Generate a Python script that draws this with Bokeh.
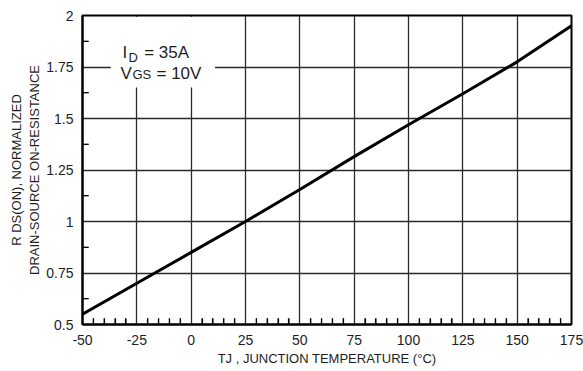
from bokeh.plotting import figure
from bokeh.models import FixedTicker, Range1d
from bokeh.core.properties import value
from bokeh.embed import file_html
from bokeh.resources import INLINE

# ---- data ----
temps = [-50, -25, 0, 25, 50, 75, 100, 125, 150, 175]
rds_norm = [0.55, 0.70, 0.85, 1.00, 1.155, 1.315, 1.47, 1.62, 1.775, 1.95]

x_ticks = [-50, -25, 0, 25, 50, 75, 100, 125, 150, 175]
x_tick_labels = ["-50", "-25", "0", "25", "50", "75", "100", "125", "150", "175"]
x_minor = [-45, -40, -35, -30, -20, -15, -10, -5, 5, 10, 15, 20, 30, 35, 40, 45,
           55, 60, 65, 70, 80, 85, 90, 95, 105, 110, 115, 120, 130, 135, 140, 145,
           155, 160, 165, 170]
y_ticks = [0.5, 0.75, 1.0, 1.25, 1.5, 1.75, 2.0]
y_tick_labels = ["0.5", "0.75", "1", "1.25", "1.5", "1.75", "2"]
y_minor = [0.625, 0.875, 1.125, 1.375, 1.625, 1.875]

x_title = "TJ , JUNCTION TEMPERATURE (°C)"
y_title = "R DS(ON), NORMALIZED\nDRAIN-SOURCE ON-RESISTANCE"

FONT = "Liberation Sans"
TXT = "#1e1e1e"

x_lo, x_hi = x_ticks[0], x_ticks[-1]
y_lo, y_hi = y_ticks[0], y_ticks[-1]

p = figure(width=583, height=371, output_backend="svg", toolbar_location=None,
           x_range=Range1d(x_lo, x_hi), y_range=Range1d(y_lo, y_hi))
p.min_border_left = 82
p.min_border_right = 12
p.min_border_top = 15
p.min_border_bottom = 47
p.background_fill_color = "white"
p.border_fill_color = "white"
p.outline_line_color = "black"
p.outline_line_width = 2

xt = FixedTicker(ticks=x_ticks, minor_ticks=x_minor)
yt = FixedTicker(ticks=y_ticks, minor_ticks=y_minor)
p.xaxis.ticker = xt
p.yaxis.ticker = yt
p.xgrid.ticker = xt
p.ygrid.ticker = yt
p.xaxis.major_label_overrides = dict(zip(x_ticks, x_tick_labels))
p.yaxis.major_label_overrides = dict(zip(y_ticks, y_tick_labels))

for g in (p.xgrid, p.ygrid):
    g.grid_line_color = "#2a2a2a"
    g.grid_line_width = 1.3
    g.grid_line_alpha = 1.0

for ax in (p.xaxis, p.yaxis):
    ax.axis_line_color = "black"
    ax.axis_line_width = 2
    ax.major_tick_in = 0
    ax.major_tick_out = 0
    ax.minor_tick_in = 6
    ax.minor_tick_out = 0
    ax.minor_tick_line_color = "black"
    ax.minor_tick_line_width = 1.2
    ax.major_label_text_font = FONT
    ax.major_label_text_font_size = "14px"
    ax.major_label_text_color = TXT
    ax.axis_label_text_font = FONT
    ax.axis_label_text_font_size = "13px"
    ax.axis_label_text_font_style = "normal"
    ax.axis_label_text_color = TXT

p.xaxis.axis_label = x_title
p.yaxis.axis_label = y_title
p.xaxis.major_label_standoff = 10
p.yaxis.major_label_standoff = 9
p.xaxis.axis_label_standoff = 3
p.yaxis.axis_label_standoff = 1

# inward minor ticks drawn as glyphs too (about 6 px long)
p.segment(x0=x_minor, y0=[y_lo] * len(x_minor), x1=x_minor,
          y1=[y_lo + 0.03] * len(x_minor), line_color="black", line_width=1.2,
          level="overlay")
p.segment(x0=[x_lo] * len(y_minor), y0=y_minor, x1=[x_lo + 2.8] * len(y_minor),
          y1=y_minor, line_color="black", line_width=1.2, level="overlay")

# white box behind the condition text
p.quad(left=[-37], right=[11], bottom=[1.65], top=[1.993],
       fill_color="white", line_color=None)

# condition text
big_x = [-31.6, -21.6, -32.5, -15.95]
big_y = [1.820, 1.820, 1.718, 1.718]
big_t = ["I", "= 35A", "V", "= 10V"]
sub_x = [-28.8, -27.0]
sub_y = [1.797, 1.716]
sub_t = ["D", "GS"]
p.text(x=big_x, y=big_y, text=big_t, text_font=value(FONT), text_font_size="17px",
       text_color=TXT, text_baseline="alphabetic", text_align="left")
p.text(x=sub_x, y=sub_y, text=sub_t, text_font=value(FONT), text_font_size="13px",
       text_color=TXT, text_baseline="alphabetic", text_align="left")

p.line(temps, rds_norm, line_width=3, line_color="black")

open("out.html", "w").write(file_html(p, INLINE))
